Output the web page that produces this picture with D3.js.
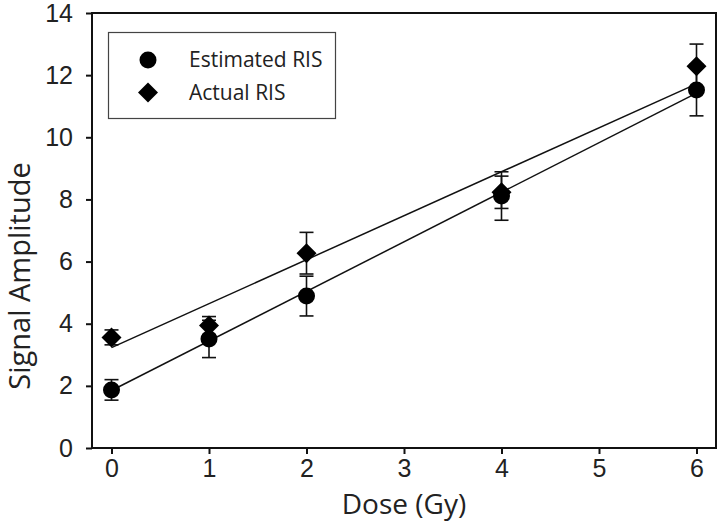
<!DOCTYPE html>
<html><head><meta charset="utf-8">
<script src="https://cdn.jsdelivr.net/npm/d3@7"></script>
<style>body{margin:0;background:#fff} .tick text{font-size:25px !important;font-family:'Liberation Sans',Arial,sans-serif !important}</style>
</head><body>
<svg id="c" width="720" height="523"></svg>
<script>
const doses = [0, 1, 2, 4, 6];
const estimated = [1.87, 3.51, 4.89, 8.11, 11.52];
const estimatedErr = [0.33, 0.6, 0.64, 0.78, 0.83];
const actual = [3.56, 3.94, 6.27, 8.23, 12.29];
const actualErr = [0.24, 0.29, 0.67, 0.52, 0.71];
const fitEstimated = [1.85, 1.595]; // intercept, slope
const fitActual = [3.23, 1.415];
const xTicks = [0, 1, 2, 3, 4, 5, 6];
const yTicks = [0, 2, 4, 6, 8, 10, 12, 14];
const seriesNames = ["Estimated RIS", "Actual RIS"];

const svg = d3.select("#c");
const L = 92, R = 716, T = 13, B = 448;
const x = d3.scaleLinear().domain([-0.2, 6.2]).range([L, R]);
const y = d3.scaleLinear().domain([0, 14]).range([B, T]);

// axes
const xa = svg.append("g").attr("transform", `translate(0,${B})`)
  .call(d3.axisBottom(x).tickValues(xTicks).tickSize(6).tickPadding(5).tickFormat(d3.format("d")));
const ya = svg.append("g").attr("transform", `translate(${L},0)`)
  .call(d3.axisLeft(y).tickValues(yTicks).tickSize(6).tickPadding(13).tickFormat(d3.format("d")));
[xa, ya].forEach(a => {
  a.attr("font-size", null).attr("font-family", null);
  a.select(".domain").remove();
  a.selectAll(".tick line").attr("stroke", "#111").attr("stroke-width", 2);
  a.selectAll(".tick text").attr("fill", "#222");
});
svg.append("rect").attr("x", L).attr("y", T).attr("width", R - L).attr("height", B - T)
  .attr("fill", "none").attr("stroke", "#111").attr("stroke-width", 2);

// fit lines
const fits = [fitEstimated, fitActual];
fits.forEach(f => {
  svg.append("line")
    .attr("x1", x(0)).attr("y1", y(f[0]))
    .attr("x2", x(6)).attr("y2", y(f[0] + f[1] * 6))
    .attr("stroke", "#111").attr("stroke-width", 1.5);
});

// error bars
function errBars(vals, errs) {
  const g = svg.append("g").attr("stroke", "#111").attr("stroke-width", 1.6);
  doses.forEach((d, i) => {
    const cx = x(d);
    g.append("line").attr("x1", cx).attr("x2", cx).attr("y1", y(vals[i] - errs[i])).attr("y2", y(vals[i] + errs[i]));
    [vals[i] - errs[i], vals[i] + errs[i]].forEach(v => {
      g.append("line").attr("x1", cx - 7).attr("x2", cx + 7).attr("y1", y(v)).attr("y2", y(v));
    });
  });
}
errBars(estimated, estimatedErr);
errBars(actual, actualErr);

const diamond = (cx, cy, s) => `M${cx},${cy - s}L${cx + s},${cy}L${cx},${cy + s}L${cx - s},${cy}Z`;

svg.append("g").selectAll("circle").data(doses).join("circle")
  .attr("cx", d => x(d)).attr("cy", (d, i) => y(estimated[i])).attr("r", 8.5).attr("fill", "#000");
svg.append("g").selectAll("path").data(doses).join("path")
  .attr("d", (d, i) => diamond(x(d), y(actual[i]), 10)).attr("fill", "#000");

// legend
svg.append("rect").attr("x", 108.5).attr("y", 32.5).attr("width", 227).attr("height", 86)
  .attr("fill", "#fff").attr("stroke", "#444").attr("stroke-width", 1.2);
svg.append("circle").attr("cx", 148).attr("cy", 60).attr("r", 8.5).attr("fill", "#000");
svg.append("path").attr("d", diamond(148, 92.5, 10)).attr("fill", "#000");
seriesNames.forEach((n, i) => {
  svg.append("text").attr("x", 189).attr("y", 60 + i * 32.5).attr("dy", "0.35em")
    .style("font-family", "'Open Sans', sans-serif").style("font-size", "21px").attr("fill", "#222").text(n);
});

// titles
svg.append("text").attr("x", (L + R) / 2).attr("y", 514).attr("text-anchor", "middle")
  .style("font-family", "'Open Sans', sans-serif").style("font-size", "28px").attr("fill", "#222").text("Dose (Gy)");
svg.append("text").attr("transform", "translate(30,276) rotate(-90)").attr("text-anchor", "middle")
  .style("font-family", "'Open Sans', sans-serif").style("font-size", "29px").attr("fill", "#222").text("Signal Amplitude");
</script>
</body></html>
